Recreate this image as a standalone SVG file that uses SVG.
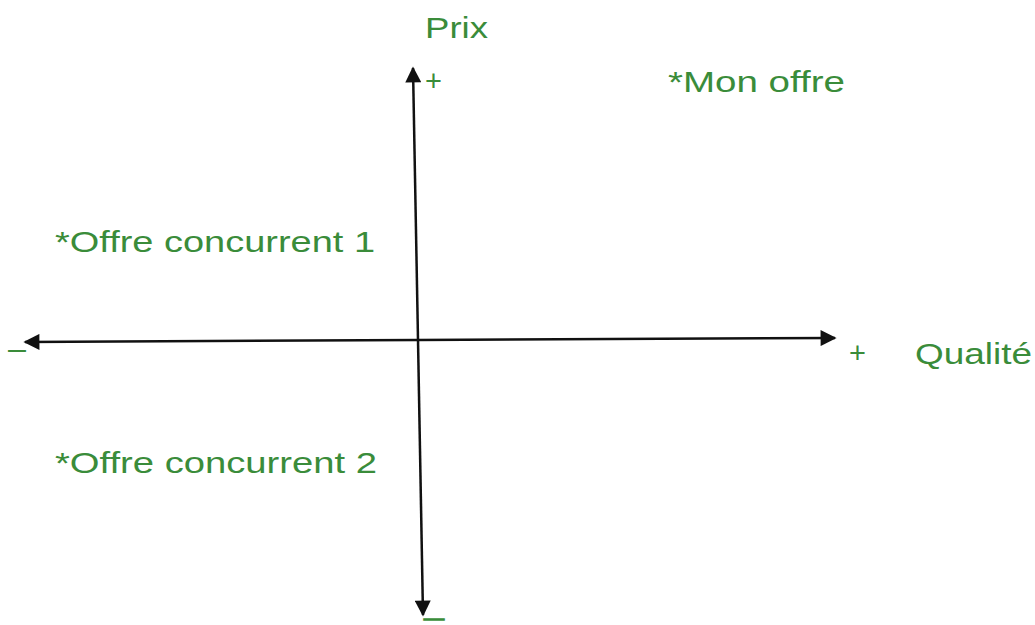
<svg xmlns="http://www.w3.org/2000/svg" width="1035" height="625" viewBox="0 0 1035 625">
  <style>
    .lbl { font-family: "Liberation Sans", Arial, sans-serif; font-size: 29px; fill: #3a8c3a; }
    .sign { font-family: "Liberation Sans", Arial, sans-serif; font-size: 29px; fill: #3a8c3a; }
    .dash { font-family: "Liberation Sans", Arial, sans-serif; font-size: 12px; fill: #3a8c3a; stroke: #3a8c3a; stroke-width: 1.4; }
    .axis { stroke: #111; stroke-width: 2.5; fill: none; marker-end: url(#arrow); }
  </style>
  <defs>
    <marker id="arrow" viewBox="0 0 10 10" refX="9" refY="5" markerUnits="userSpaceOnUse" markerWidth="18" markerHeight="16" orient="auto">
      <path d="M0,0 L10,5 L0,10 Z" fill="#111"/>
    </marker>
  </defs>
  <rect width="1035" height="625" fill="#ffffff"/>
  <g id="connectors">
    <line class="axis" x1="418" y1="340" x2="413" y2="68"/>
    <line class="axis" x1="418" y1="340" x2="423" y2="615"/>
    <line class="axis" x1="418" y1="340" x2="25" y2="342"/>
    <line class="axis" x1="418" y1="340" x2="835" y2="338"/>
  </g>
  <g id="prix"><text class="lbl" x="425" y="38" textLength="63" lengthAdjust="spacingAndGlyphs">Prix</text></g>
  <g id="plus-top"><text class="sign" x="425" y="91">+</text></g>
  <g id="minus-bottom"><text class="dash" x="425" y="623" textLength="18" lengthAdjust="spacingAndGlyphs">–</text></g>
  <g id="minus-left"><text class="lbl" x="8" y="359" textLength="18" lengthAdjust="spacingAndGlyphs">–</text></g>
  <g id="plus-right"><text class="sign" x="849" y="363">+</text></g>
  <g id="qualite"><text class="lbl" x="915" y="364" textLength="117" lengthAdjust="spacingAndGlyphs">Qualité</text></g>
  <g id="mon-offre"><text class="lbl" x="668" y="92" textLength="177" lengthAdjust="spacingAndGlyphs">*Mon offre</text></g>
  <g id="offre-1"><text class="lbl" x="55" y="252" textLength="320" lengthAdjust="spacingAndGlyphs">*Offre concurrent 1</text></g>
  <g id="offre-2"><text class="lbl" x="55" y="473" textLength="322" lengthAdjust="spacingAndGlyphs">*Offre concurrent 2</text></g>
</svg>
